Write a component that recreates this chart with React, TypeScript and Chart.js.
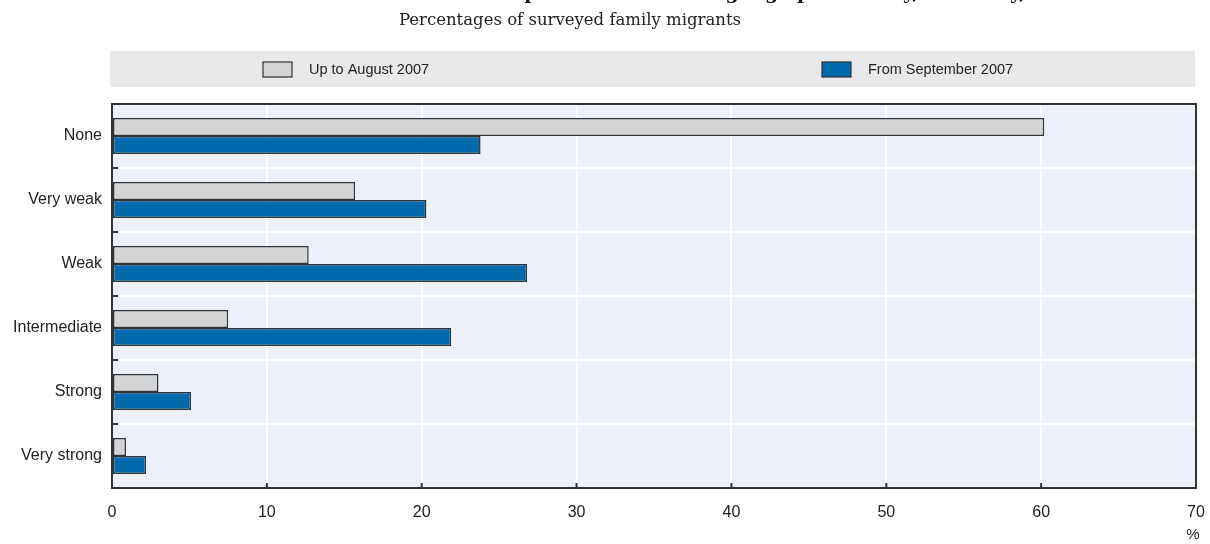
import React, { useEffect, useRef } from "react";
import { Chart, registerables } from "chart.js";

Chart.register(...registerables);

const categories = ["None", "Very weak", "Weak", "Intermediate", "Strong", "Very strong"];
const upToAugust2007 = [60.2, 15.7, 12.7, 7.5, 3.0, 0.9];
const fromSeptember2007 = [23.8, 20.3, 26.8, 21.9, 5.1, 2.2];
const seriesLabels = ["Up to August 2007", "From September 2007"];
const titleText = "Self-reported German language proficiency, Germany, 2007-08";
const subtitleText = "Percentages of surveyed family migrants";
const unitText = "%";

const GRAY = "#d3d4d6";
const BLUE = "#006aad";
const EDGE = "#333333";
const PLOT_BG = "#edf0f8";
const BAND_BG = "#e9e9eb";
const SANS = "'Liberation Sans', Arial, sans-serif";
const SERIF = "'DejaVu Serif', serif";

const decorPlugin = {
  id: "decor",
  beforeDraw(chart: any) {
    const { ctx, chartArea } = chart;
    ctx.save();
    ctx.fillStyle = "#ffffff";
    ctx.fillRect(0, 0, chart.width, chart.height);
    ctx.fillStyle = PLOT_BG;
    ctx.fillRect(chartArea.left, chartArea.top, chartArea.right - chartArea.left, chartArea.bottom - chartArea.top);

    // title (only its lower part is visible)
    ctx.fillStyle = "#111";
    ctx.font = "bold 19px " + SERIF;
    ctx.textBaseline = "alphabetic";
    ctx.textAlign = "left";
    const prefix = ctx.measureText("Self-reported German language ").width;
    ctx.fillText(titleText, 797 - prefix, -1);

    // subtitle
    ctx.font = "16.5px " + SERIF;
    ctx.textAlign = "center";
    ctx.fillStyle = "#222";
    ctx.fillText(subtitleText, 570, 25);

    // legend band
    ctx.fillStyle = BAND_BG;
    ctx.fillRect(110, 51, 1085, 36);
    const items = [
      { x: 263, color: GRAY, label: seriesLabels[0] },
      { x: 822, color: BLUE, label: seriesLabels[1] },
    ];
    ctx.textAlign = "left";
    ctx.textBaseline = "middle";
    ctx.font = "14.5px " + SANS;
    for (const it of items) {
      ctx.fillStyle = it.color;
      ctx.fillRect(it.x, 62, 29, 15);
      ctx.strokeStyle = EDGE;
      ctx.lineWidth = 1.2;
      ctx.strokeRect(it.x, 62, 29, 15);
      ctx.fillStyle = "#222";
      ctx.fillText(it.label, it.x + 46, 69.5);
    }
    ctx.restore();
  },
  afterDraw(chart: any) {
    const { ctx, chartArea } = chart;
    const xs = chart.scales.x;
    const ys = chart.scales.y;
    ctx.save();
    ctx.strokeStyle = EDGE;
    ctx.lineWidth = 2;
    // y boundary ticks inside plot
    for (let i = 1; i < categories.length; i++) {
      const y = (ys.getPixelForValue(i - 1) + ys.getPixelForValue(i)) / 2;
      ctx.beginPath();
      ctx.moveTo(chartArea.left, y);
      ctx.lineTo(chartArea.left + 6, y);
      ctx.stroke();
    }
    // x ticks inside plot
    for (let v = 10; v < 70; v += 10) {
      const x = xs.getPixelForValue(v);
      ctx.beginPath();
      ctx.moveTo(x, chartArea.bottom);
      ctx.lineTo(x, chartArea.bottom - 5);
      ctx.stroke();
    }
    // frame
    ctx.lineWidth = 2;
    ctx.strokeRect(chartArea.left, chartArea.top, chartArea.right - chartArea.left, chartArea.bottom - chartArea.top);
    // unit
    ctx.fillStyle = "#222";
    ctx.font = "15px " + SANS;
    ctx.textAlign = "center";
    ctx.textBaseline = "middle";
    ctx.fillText(unitText, 1193, 535);
    ctx.restore();
  },
};

export default function App() {
  const ref = useRef<HTMLCanvasElement | null>(null);
  useEffect(() => {
    if (!ref.current) return;
    const chart = new Chart(ref.current, {
      type: "bar",
      data: {
        labels: categories,
        datasets: [
          {
            label: seriesLabels[0],
            data: upToAugust2007,
            backgroundColor: GRAY,
            borderColor: EDGE,
            borderWidth: 1.5,
            borderSkipped: false,
          },
          {
            label: seriesLabels[1],
            data: fromSeptember2007,
            backgroundColor: BLUE,
            borderColor: EDGE,
            borderWidth: 1.5,
            borderSkipped: false,
          },
        ],
      },
      options: {
        indexAxis: "y",
        responsive: false,
        animation: false,
        layout: { padding: { top: 104, right: 14, bottom: 0, left: 0 } },
        datasets: { bar: { categoryPercentage: 0.5625, barPercentage: 1 } },
        plugins: {
          legend: { display: false },
          title: { display: false },
          tooltip: { enabled: false },
        },
        scales: {
          x: {
            min: 0,
            max: 70,
            ticks: { stepSize: 10, color: "#222", font: { family: SANS, size: 16 }, padding: 15 },
            grid: { color: "#ffffff", lineWidth: 2, drawTicks: false },
            border: { display: false },
            afterFit: (s: any) => {
              s.height = 56;
              s.paddingLeft = 0;
              s.paddingRight = 0;
            },
          },
          y: {
            ticks: { color: "#222", font: { family: SANS, size: 16 }, padding: 10 },
            grid: { color: "#ffffff", lineWidth: 2, drawTicks: false, offset: true },
            border: { display: false },
            afterFit: (s: any) => {
              s.width = 112;
              s.paddingTop = 0;
              s.paddingBottom = 0;
            },
          },
        },
      },
      plugins: [decorPlugin],
    } as any);
    return () => chart.destroy();
  }, []);
  return (
    <div style={{ position: "absolute", left: 0, top: 0, width: 1210, height: 544 }}>
      <canvas ref={ref} width={1210} height={544} />
    </div>
  );
}
